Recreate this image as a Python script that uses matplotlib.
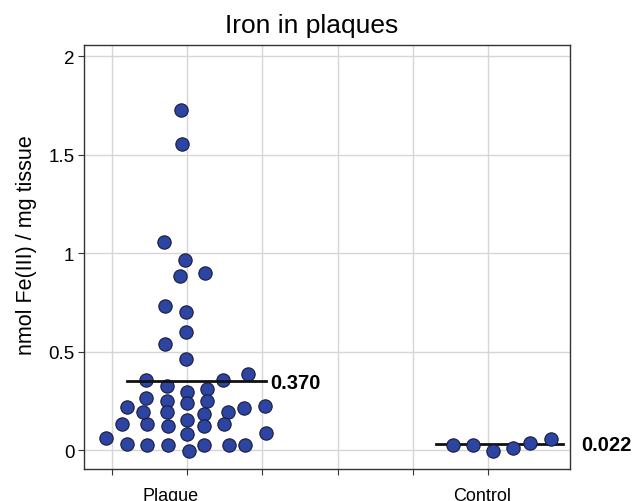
import matplotlib
matplotlib.use('Agg')
import matplotlib.pyplot as plt

plt.rcParams['font.family'] = ['Liberation Sans', 'DejaVu Sans']

# Plaque: jittered x positions and values (nmol Fe(III) / mg tissue)
plaque_x = [0.916, 1.195, 1.129, 1.195, 1.469, 1.469, 1.408, 1.452, 1.452,
            1.691, 1.709, 1.709, 1.727, 1.727, 1.727, 1.745, 1.745,
            1.967, 1.904, 1.980, 1.980, 1.980, 1.993, 1.993, 2.001, 2.001, 2.028,
            2.237, 2.259, 2.259, 2.223, 2.223, 2.223,
            2.480, 2.539, 2.493, 2.560, 2.813, 2.751, 2.773, 3.031, 3.048,
            1.918, 1.927]
plaque_y = [0.061, 0.030, 0.132, 0.220, 0.024, 0.132, 0.194, 0.265, 0.355,
            1.057, 0.732, 0.537, 0.326, 0.250, 0.194, 0.123, 0.024,
            0.964, 0.883, 0.702, 0.597, 0.462, 0.296, 0.237, 0.154, 0.083, -0.004,
            0.898, 0.310, 0.249, 0.183, 0.123, 0.027,
            0.355, 0.194, 0.130, 0.024, 0.387, 0.213, 0.024, 0.222, 0.086,
            1.726, 1.553]

control_x = [5.540, 5.805, 6.063, 6.336, 6.559, 6.834]
control_y = [0.025, 0.025, -0.007, 0.010, 0.034, 0.056]

# median bars: (x start, x end, y), labels
plaque_bar = (1.195, 3.048, 0.350)
control_bar = (5.309, 7.001, 0.029)
plaque_label = '0.370'
control_label = '0.022'

categories = ['Plaque', 'Control']
cat_pos = [1.785, 5.916]

fig = plt.figure(figsize=(6.42, 5.02), dpi=100)
ax = fig.add_axes([84/642, 32/502, 486/642, 424/502])

ax.set_xlim(0.628, 7.090)
ax.set_ylim(-0.096, 2.056)

ax.set_xticks([1, 2, 3, 4, 5, 6])
ax.set_xticklabels([])
ax.set_xticks(cat_pos, minor=True)
ax.set_xticklabels(categories, minor=True)
ax.tick_params(axis='x', which='minor', length=0, pad=13, labelsize=13)
ax.tick_params(axis='x', which='major', length=4, color='#333333')
ax.set_yticks([0, 0.5, 1, 1.5, 2])
ax.set_yticklabels(['0', '0.5', '1', '1.5', '2'])
ax.tick_params(axis='y', length=4, pad=3, labelsize=13.5, color='#333333')

ax.grid(True, which='major', color='#d6d6d6', linewidth=1)
ax.set_axisbelow(True)
for s in ax.spines.values():
    s.set_color('#333333')
    s.set_linewidth(1)

mk = dict(s=92, facecolor='#2c44a2', edgecolor='#1b1b3c', linewidth=0.8, zorder=3)
ax.scatter(plaque_x, plaque_y, **mk)
ax.scatter(control_x, control_y, **mk)

ax.plot(plaque_bar[:2], [plaque_bar[2]] * 2, color='#111111', lw=2, zorder=4)
ax.plot(control_bar[:2], [control_bar[2]] * 2, color='#111111', lw=2, zorder=2)

ax.text(3.104, 0.313, plaque_label, fontsize=14.5, fontweight='bold', va='baseline', ha='left')
ax.text(7.241, 0.0015, control_label, fontsize=14.5, fontweight='bold', va='baseline', ha='left',
        clip_on=False)

ax.set_title('Iron in plaques', fontsize=19, pad=9, x=0.468)
ax.set_ylabel('nmol Fe(III) / mg tissue', fontsize=15.5)
ax.yaxis.set_label_coords(-0.097, 0.531)

fig.savefig('out.png', dpi=100)
